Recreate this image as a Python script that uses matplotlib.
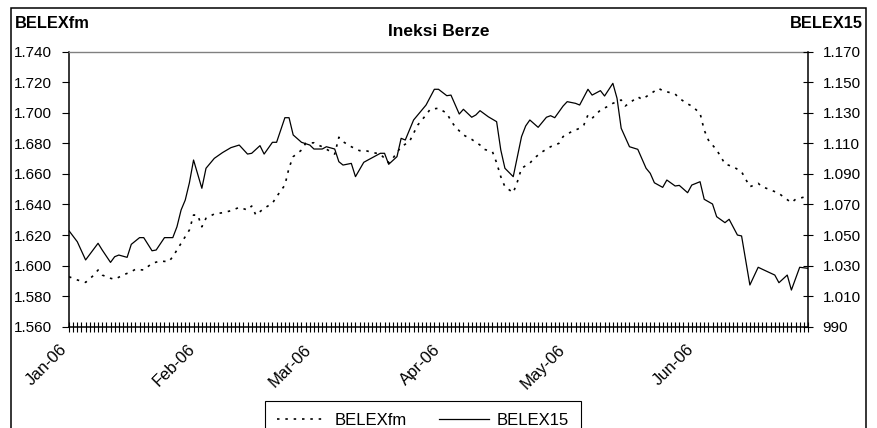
import numpy as np
import matplotlib
matplotlib.use('Agg')
import matplotlib.pyplot as plt
import matplotlib.dates as mdates
from matplotlib.ticker import FuncFormatter, FixedLocator
from matplotlib.patches import Rectangle
from matplotlib.transforms import offset_copy

plt.rcParams['font.family'] = ['Liberation Sans', 'DejaVu Sans']

# data: day offset from 3 Jan 2006, index level
start = np.datetime64('2006-01-03')

days_15 = [0, 2, 4, 7, 8, 10, 11, 12, 14, 15, 17, 18, 20, 21, 23, 25, 26, 27, 28, 29,
           30, 32, 33, 35, 37, 39, 41, 43, 44, 46, 47, 49, 50, 52, 53, 54, 56, 58, 59, 61,
           62, 64, 65, 66, 68, 69, 71, 72, 75, 76, 77, 79, 80, 81, 83, 86, 88, 89, 91, 92,
           94, 95, 97, 98, 99, 101, 103, 104, 105, 107, 109, 110, 111, 113, 115, 116, 117, 119, 120, 122,
           123, 125, 126, 128, 129, 131, 132, 133, 135, 137, 139, 140, 141, 143, 144, 146, 147, 149, 150, 152,
           153, 155, 156, 158, 159, 161, 162, 164, 166, 167, 170, 171, 173, 174, 176, 178]
belex15 = [1052.8, 1045.6, 1033.7, 1044.6, 1040.2, 1032.1, 1035.8, 1036.9, 1035.4, 1043.9,
           1048.3, 1048.3, 1039.7, 1040.2, 1048.3, 1048.3, 1055.4, 1066.4, 1072.9, 1084.2,
           1099.1, 1080.6, 1093.7, 1100.2, 1104.0, 1107.2, 1108.9, 1103.0, 1103.5, 1108.5,
           1103.0, 1110.7, 1110.7, 1126.8, 1126.8, 1115.5, 1110.7, 1108.9, 1106.3, 1106.3,
           1107.8, 1106.3, 1098.0, 1095.8, 1096.9, 1088.2, 1097.6, 1099.1, 1103.5, 1103.5,
           1096.3, 1101.3, 1113.3, 1112.2, 1125.3, 1135.1, 1145.4, 1145.4, 1141.2, 1141.6,
           1129.2, 1132.3, 1127.1, 1128.6, 1131.4, 1127.4, 1124.2, 1105.7, 1093.7, 1088.2,
           1114.4, 1121.4, 1125.3, 1120.5, 1127.1, 1128.1, 1126.8, 1134.4, 1137.3, 1136.2,
           1135.1, 1145.4, 1141.6, 1144.5, 1141.0, 1149.3, 1139.5, 1119.9, 1107.8, 1106.1,
           1093.7, 1090.4, 1084.2, 1081.2, 1086.0, 1082.1, 1082.5, 1077.7, 1082.7, 1084.9,
           1073.4, 1070.3, 1062.0, 1058.1, 1060.3, 1050.0, 1049.4, 1017.3, 1028.9, 1027.6,
           1023.8, 1018.8, 1023.8, 1014.0, 1028.9, 1028.2]

days_fm = [0, 2, 4, 6, 7, 8, 10, 11, 13, 15, 16, 18, 20, 22, 24, 25, 27, 29, 30, 31,
           32, 33, 35, 37, 39, 41, 43, 44, 45, 47, 49, 50, 52, 53, 54, 56, 57, 59, 60, 61,
           64, 65, 66, 68, 70, 71, 73, 75, 77, 78, 80, 82, 83, 84, 86, 87, 89, 91, 92, 93,
           95, 97, 99, 100, 102, 103, 104, 105, 107, 108, 109, 111, 112, 114, 116, 118, 119, 121, 123, 124,
           125, 126, 128, 130, 131, 133, 134, 136, 137, 138, 140, 142, 143, 146, 147, 149, 150, 152, 153, 154,
           156, 157, 158, 160, 162, 164, 166, 167, 169, 171, 172, 174, 175, 178]
belexfm = [1592.7, 1590.6, 1589.0, 1593.8, 1597.1, 1593.8, 1591.7, 1591.0, 1593.8, 1596.0,
           1597.6, 1597.1, 1601.5, 1603.0, 1602.5, 1605.8, 1614.6, 1623.3, 1633.1, 1633.1,
           1625.4, 1631.0, 1633.8, 1634.6, 1635.9, 1638.1, 1636.4, 1639.0, 1633.1, 1637.5,
           1640.8, 1645.1, 1652.7, 1664.0, 1671.3, 1675.6, 1680.0, 1680.4, 1678.9, 1677.8,
           1673.0, 1684.0, 1681.1, 1677.8, 1675.2, 1675.6, 1674.1, 1673.0, 1667.3, 1670.2,
           1677.8, 1681.1, 1686.6, 1692.0, 1698.6, 1702.3, 1703.0, 1699.7, 1694.8, 1690.9,
           1685.5, 1682.6, 1678.9, 1676.1, 1674.5, 1667.3, 1658.2, 1651.6, 1647.7, 1654.9,
           1663.7, 1667.0, 1670.2, 1674.5, 1677.8, 1680.0, 1684.4, 1687.6, 1689.9, 1692.0,
           1698.6, 1696.4, 1701.8, 1704.5, 1706.2, 1708.4, 1704.5, 1708.4, 1710.5, 1708.8,
           1712.3, 1716.0, 1714.5, 1712.3, 1709.5, 1705.8, 1704.5, 1699.7, 1688.7, 1682.2,
           1675.6, 1671.3, 1666.5, 1664.7, 1661.4, 1651.6, 1653.8, 1651.6, 1649.5, 1647.3,
           1645.1, 1641.2, 1643.4, 1645.5]

left_ticks = list(range(1560, 1741, 20))
right_ticks = list(range(990, 1171, 20))
month_days = [0, 31, 59, 90, 120, 151]  # label positions (3rd of each month)

dates_15 = start + np.array(days_15).astype('timedelta64[D]')
dates_fm = start + np.array(days_fm).astype('timedelta64[D]')
month_dates = start + np.array(month_days).astype('timedelta64[D]')

W, H = 878, 428
fig = plt.figure(figsize=(W / 100, H / 100), dpi=100)
ax = fig.add_axes([69 / W, 1 - 326.7 / H, 739 / W, 275 / H])
ax2 = ax.twinx()

l1, = ax.plot(dates_fm, belexfm, color='black', lw=1.2, linestyle=(0, (1.5, 3.5)),
              label='BELEXfm')
l2, = ax2.plot(dates_15, belex15, color='black', lw=0.9, label='BELEX15')

ax.set_xlim(start, start + np.timedelta64(178, 'D'))
ax.set_ylim(1560, 1740)
ax2.set_ylim(990, 1170)

sep = FuncFormatter(lambda v, p: f"{int(round(v)):,}".replace(',', '.'))
ax.yaxis.set_major_locator(FixedLocator(left_ticks))
ax2.yaxis.set_major_locator(FixedLocator(right_ticks))
ax.yaxis.set_major_formatter(sep)
ax2.yaxis.set_major_formatter(sep)

ax.xaxis.set_major_locator(mdates.DayLocator())
ax.tick_params(axis='x', which='both', direction='inout', length=7, width=0.8,
               color='black', labelbottom=False)
ax.tick_params(axis='y', direction='out', length=5, width=0.8, labelsize=11, pad=7)
ax2.tick_params(axis='y', direction='inout', length=7, width=0.8, labelsize=11, pad=7)

# month labels, rotated like Excel's
lab_tr = offset_copy(ax.get_xaxis_transform(), fig=fig, x=-10, y=-15, units='dots')
for d in month_dates:
    lab = d.astype(object).strftime('%b-%y')
    ax.text(d, 0, lab, transform=lab_tr, rotation=45, ha='right', va='top',
            rotation_mode='anchor', fontsize=12)

for s in ['left', 'bottom']:
    ax.spines[s].set_linewidth(1.1)
ax.spines['right'].set_visible(False)
ax.spines['top'].set_color('#808080')
ax.spines['top'].set_linewidth(1.0)
for s in ['left', 'bottom', 'top']:
    ax2.spines[s].set_visible(False)
ax2.spines['right'].set_linewidth(1.1)

fig.text(438.5 / W, 1 - 31 / H, 'Ineksi Berze', ha='center', va='center',
         fontsize=12.5, fontweight='bold')
fig.text(15 / W, 1 - 23 / H, 'BELEXfm', ha='left', va='center',
         fontsize=11.8, fontweight='bold')
fig.text(863 / W, 1 - 23 / H, 'BELEX15', ha='right', va='center',
         fontsize=11.8, fontweight='bold')

leg = fig.legend([l1, l2], ['BELEXfm', 'BELEX15'], loc='upper left',
                 bbox_to_anchor=(265 / W, 1 - 400.7 / H), ncol=2, fontsize=12,
                 frameon=True, fancybox=False, edgecolor='black', framealpha=1,
                 handlelength=3.0, handletextpad=0.42, columnspacing=1.95,
                 borderpad=0.75, borderaxespad=0)
leg.get_frame().set_linewidth(0.8)

fig.patches.append(Rectangle((11 / W, -0.05), 855 / W, 1.05 - 8 / H, fill=False,
                             edgecolor='black', lw=1.1, transform=fig.transFigure))

fig.savefig('out.png', dpi=100)
